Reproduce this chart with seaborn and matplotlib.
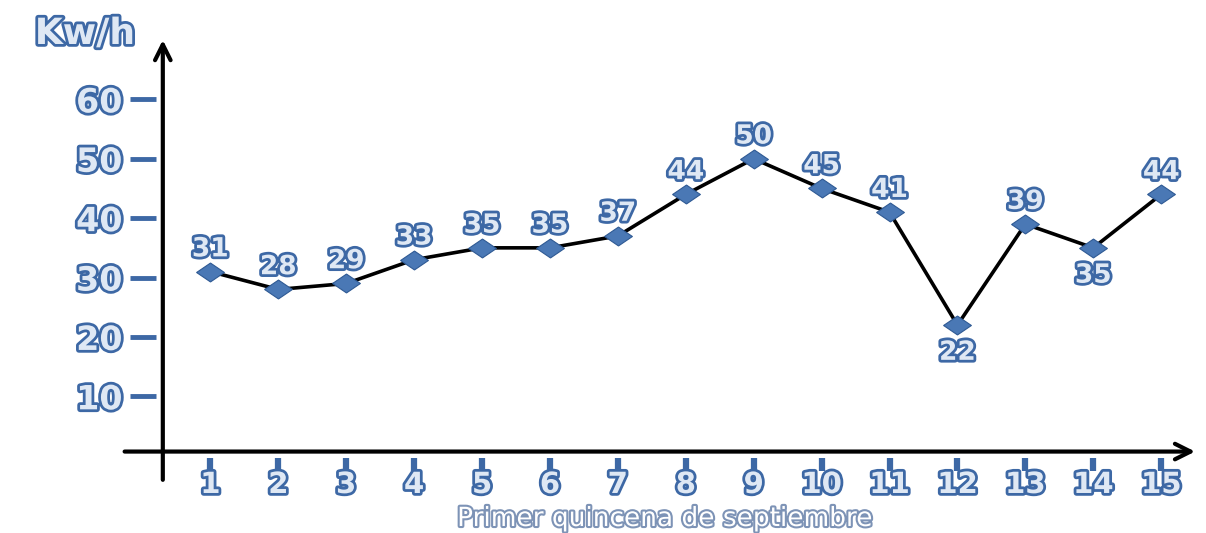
import matplotlib
matplotlib.use("Agg")
import matplotlib.pyplot as plt
import matplotlib.patheffects as pe
import seaborn as sns
import pandas as pd

# Datos: consumo diario (Kw/h) de la primera quincena de septiembre
dias = list(range(1, 16))
consumo = [31, 28, 29, 33, 35, 35, 37, 44, 50, 45, 41, 22, 39, 35, 44]
etiqueta_abajo = [12, 14]  # días con la etiqueta debajo del punto
y_ticks = [10, 20, 30, 40, 50, 60]

df = pd.DataFrame({"dia": dias, "kwh": consumo})

sns.set_style("white")
plt.rcParams["font.family"] = ["DejaVu Sans"]

AZUL = "#3d68a5"
RELLENO = "#dfe8f4"
contorno = [pe.withStroke(linewidth=4, foreground=AZUL)]

fig = plt.figure(figsize=(12.06, 5.33), dpi=100)
ax = fig.add_axes([0.135, 0.145, 0.856, 0.78])

# línea + marcadores en rombo
sns.lineplot(data=df, x="dia", y="kwh", color="black", linewidth=2.6, ax=ax, zorder=2)
rombo = [(-1, 0), (0, 0.68), (1, 0), (0, -0.68), (-1, 0)]
sns.scatterplot(data=df, x="dia", y="kwh", marker=rombo, s=400, color="#4a78b5",
                edgecolor="#2f5a94", linewidth=0.8, ax=ax, zorder=3)

# etiquetas de valores
for d, v in zip(dias, consumo):
    dy = -20 if d in etiqueta_abajo else 16
    ax.annotate(str(v), xy=(d, v), xytext=(0, dy), textcoords="offset points",
                ha="center", va="center", fontsize=19, fontweight="bold",
                color=RELLENO, path_effects=contorno, zorder=4)

ax.set_xlim(0.3, 15.5)
ax.set_ylim(0, 70)
ax.set_xticks(dias)
ax.set_yticks(y_ticks)
ax.set_xlabel("")
ax.set_ylabel("")

for s in ax.spines.values():
    s.set_color("none")
ax.spines["left"].set_position(("outward", 5))
ax.spines["bottom"].set_position(("outward", 2))

ax.tick_params(axis="y", length=19, width=3.5, color=AZUL, pad=5, direction="out",
               left=True, labelsize=24)
ax.tick_params(axis="x", length=9, width=4.5, color=AZUL, pad=0, direction="out",
               bottom=True, labelsize=21)
for lbl in ax.get_xticklabels() + ax.get_yticklabels():
    lbl.set_fontweight("bold")
    lbl.set_color(RELLENO)
    lbl.set_path_effects(contorno)

# ejes con flecha
flecha = dict(arrowstyle="->", lw=3, color="black", mutation_scale=28,
              shrinkA=0, shrinkB=0)
ax.annotate("", xy=(0, 1.0), xytext=(0, -0.058), xycoords="axes fraction",
            arrowprops=flecha, annotation_clip=False)
ax.annotate("", xy=(1.0, 0.01), xytext=(-0.037, 0.01), xycoords="axes fraction",
            arrowprops=flecha, annotation_clip=False)

fig.text(85 / 1206, 1 - 34 / 533, "Kw/h", ha="center", va="center", fontsize=26,
         fontweight="bold", color=RELLENO, path_effects=contorno)
fig.text(665 / 1206, 1 - 519 / 533, "Primer quincena de septiembre", ha="center",
         va="center", fontsize=19, color="white",
         path_effects=[pe.withStroke(linewidth=3, foreground="#7d93b6")])

fig.savefig("out.png", dpi=100)
